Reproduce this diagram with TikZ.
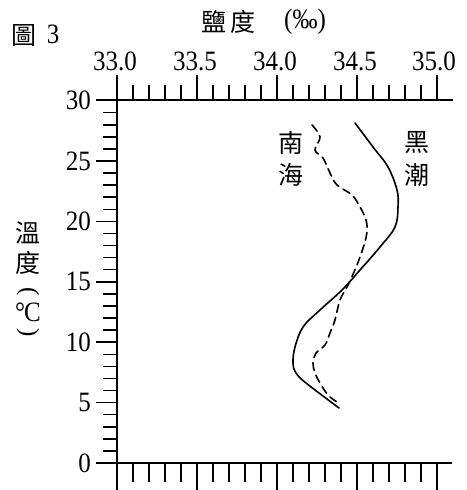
\documentclass[tikz,border=0pt]{standalone}
\usepackage{fontspec}
\setmainfont{Liberation Serif}
\newfontfamily\numf{Liberation Serif}
\newfontfamily\cjk{Noto Sans CJK TC}
\newcommand{\numlab}[1]{\scalebox{1}[1.12]{#1}}
\tikzset{
  ax/.style={line width=1.5pt},
  tk/.style={line width=1.5pt},
  num/.style={inner sep=0pt, font=\fontsize{25}{25}\selectfont\numf},
  cj/.style={inner sep=0pt, font=\fontsize{25}{25}\selectfont\cjk},
  curve/.style={line width=1.6pt, line cap=round, line join=round},
  dcurve/.style={curve, dash pattern=on 8pt off 5pt}
}
\begin{document}
\begin{tikzpicture}[x=1pt,y=-1pt]
\useasboundingbox (0,0) rectangle (466,490);
% axes
\draw[ax] (96,100) -- (453,100);
\draw[ax] (117,75) -- (117,490);
\draw[ax] (96,463) -- (452,463);
% top and bottom ticks
\foreach \k in {1,...,20}{
  \pgfmathsetmacro\xx{117+16*\k}
  \pgfmathparse{mod(\k,5)==0 ? 75 : 85}\let\yt\pgfmathresult
  \pgfmathparse{mod(\k,5)==0 ? 490 : 482}\let\yb\pgfmathresult
  \draw[tk] (\xx,100) -- (\xx,\yt);
  \draw[tk] (\xx,463) -- (\xx,\yb);
}
% left ticks
\foreach \t in {1,...,29}{
  \pgfmathsetmacro\yy{463-12.08*\t}
  \pgfmathparse{mod(\t,5)==0 ? 96 : 103}\let\xl\pgfmathresult
  \draw[tk] (\xl,\yy) -- (117,\yy);
}
% top labels
\node[num] (s330) at (115,61) {\numlab{33.0}};
\node[num] (s335) at (195,61) {\numlab{33.5}};
\node[num] (s340) at (275,61) {\numlab{34.0}};
\node[num] (s345) at (355,61) {\numlab{34.5}};
\node[num] (s350) at (434,61) {\numlab{35.0}};
% left labels
\foreach \t/\nm in {0/t0,5/t5,10/t10,15/t15,20/t20,25/t25,30/t30}{
  \pgfmathsetmacro\yy{463-12.08*\t}
  \node[num, anchor=east] (\nm) at (91,\yy) {\numlab{\t}};
}
% titles
\node[cj] (fig) at (24,35) {圖};
\node[num] (fign) at (53,34) {\numlab{3}};
\node[cj] (yan) at (214,22) {鹽};
\node[cj] (du) at (243,22) {度};
\node[num] (permil) at (305,22) {\numlab{(‰)}};
\node[cj] (wen) at (28,233) {溫};
\node[cj] (du2) at (28,263) {度};
\node[num, rotate=-90] (lp) at (28,292) {(};
\node[num] (deg) at (28,312) {\numlab{°\kern-1pt C}};
\node[num, rotate=-90] (rp) at (28,333) {)};
\node[cj] (nan) at (291,143) {南};
\node[cj] (hai) at (291,175) {海};
\node[cj] (hei) at (417,143) {黑};
\node[cj] (chao) at (417,175) {潮};
% curves
\draw[curve] plot[smooth, tension=0.6] coordinates {(355,123) (373,147) (388,167) (397,190) (398,207) (395,227) (380,247) (360,270) (342,290) (320,310) (303,327) (295,347) (293,363) (296,373) (306,383) (339,408)};
\draw[dcurve] plot[smooth, tension=0.6] coordinates {(312,125) (320,137) (315,150) (323,158) (330,173) (337,185) (352,195) (360,207) (366,220) (367,232) (364,245) (357,265) (348,285) (340,300) (335,320) (330,333) (325,345) (316,353) (313,363) (315,373) (320,383) (328,395) (337,402)};
\end{tikzpicture}
\end{document}
